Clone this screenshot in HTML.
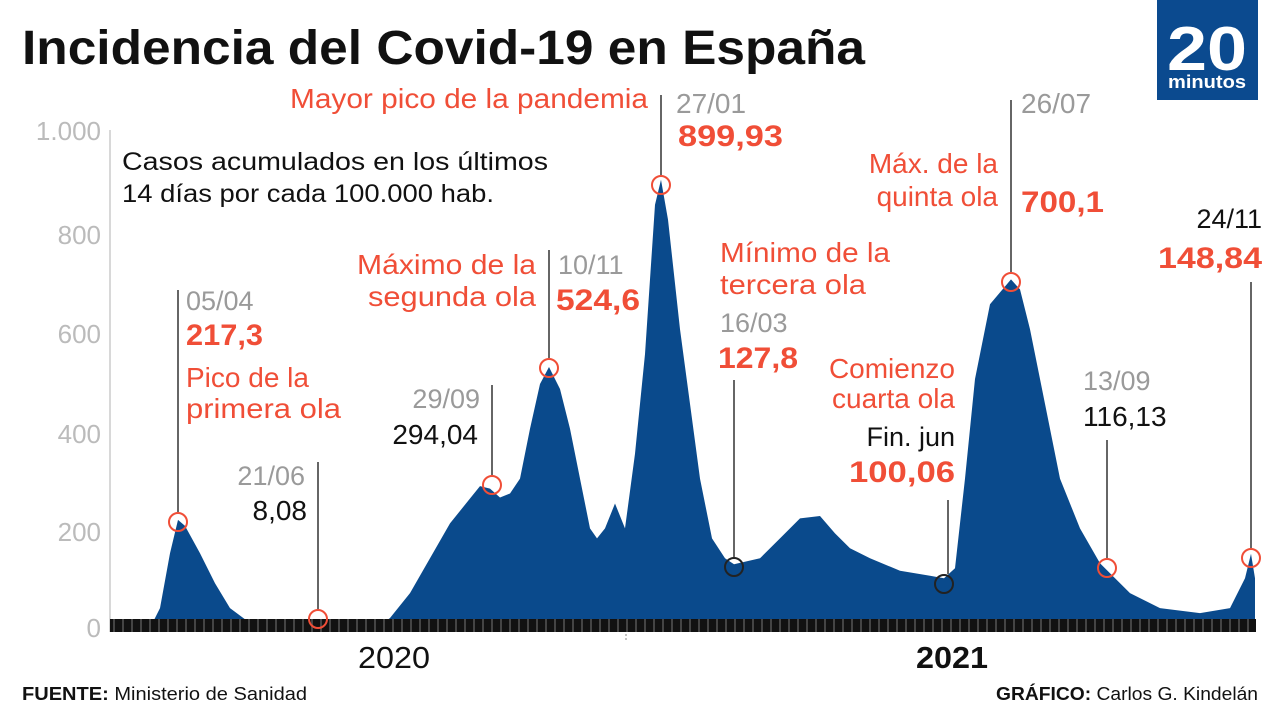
<!DOCTYPE html>
<html><head><meta charset="utf-8"><style>
html,body{margin:0;padding:0;background:#fff;width:1280px;height:720px;overflow:hidden}
svg{display:block}
text{font-family:"Liberation Sans",sans-serif}
.g{fill:#9a9a9a}.r{fill:#f04e37}.k{fill:#111}
</style></head><body>
<svg width="1280" height="720" viewBox="0 0 1280 720">
<defs>
<pattern id="st" width="9" height="14" patternUnits="userSpaceOnUse"><rect width="9" height="14" fill="#111"/><rect x="5" width="2" height="14" fill="#444"/></pattern>
</defs>
<text x="22" y="64" font-size="48" font-weight="bold" textLength="843" lengthAdjust="spacingAndGlyphs" class="k">Incidencia del Covid-19 en España</text>
<rect x="1157" y="0" width="101" height="100" fill="#0b4a8f"/>
<text x="1207" y="70" font-size="62" font-weight="bold" fill="#fff" text-anchor="middle" textLength="80" lengthAdjust="spacingAndGlyphs">20</text>
<text x="1207" y="88" font-size="18" font-weight="bold" fill="#fff" text-anchor="middle" textLength="78" lengthAdjust="spacingAndGlyphs">minutos</text>
<g font-size="26" fill="#bbb" text-anchor="end">
<text x="101" y="140">1.000</text><text x="101" y="244">800</text><text x="101" y="343">600</text><text x="101" y="443">400</text><text x="101" y="541">200</text><text x="101" y="637">0</text>
</g>
<line x1="110" y1="130" x2="110" y2="632" stroke="#ccc" stroke-width="1.5"/>
<path id="area" fill="#0a4a8c" d=""/>
<rect x="110" y="619" width="1146" height="13" fill="url(#st)"/>
<line x1="626" y1="634" x2="626" y2="642" stroke="#888" stroke-dasharray="2,2"/>
<g stroke="#333" stroke-width="1.5">
<line x1="178" y1="290" x2="178" y2="512"/><line x1="318" y1="462" x2="318" y2="610"/>
<line x1="492" y1="385" x2="492" y2="475"/><line x1="549" y1="250" x2="549" y2="358"/>
<line x1="661" y1="95" x2="661" y2="175"/><line x1="734" y1="380" x2="734" y2="557"/>
<line x1="948" y1="500" x2="948" y2="574"/><line x1="1011" y1="100" x2="1011" y2="272"/>
<line x1="1107" y1="440" x2="1107" y2="558"/><line x1="1251" y1="282" x2="1251" y2="548"/>
</g>
<g fill="none" stroke-width="2">
<circle cx="178" cy="522" r="9" stroke="#f04e37"/><circle cx="318" cy="619" r="9" stroke="#f04e37"/>
<circle cx="492" cy="485" r="9" stroke="#f04e37"/><circle cx="549" cy="368" r="9" stroke="#f04e37"/>
<circle cx="661" cy="185" r="9" stroke="#f04e37"/><circle cx="734" cy="567" r="9" stroke="#222"/>
<circle cx="944" cy="584" r="9" stroke="#222"/><circle cx="1011" cy="282" r="9" stroke="#f04e37"/>
<circle cx="1107" cy="568" r="9" stroke="#f04e37"/><circle cx="1251" cy="558" r="9" stroke="#f04e37"/>
</g>
<g font-size="25">
<text x="122" y="170" class="k" textLength="426" lengthAdjust="spacingAndGlyphs">Casos acumulados en los últimos</text>
<text x="122" y="202" class="k" textLength="372" lengthAdjust="spacingAndGlyphs">14 días por cada 100.000 hab.</text>
<text x="290" y="108" class="r" font-size="28" textLength="358" lengthAdjust="spacingAndGlyphs">Mayor pico de la pandemia</text>
<text x="676" y="113" class="g" font-size="28">27/01</text>
<text x="678" y="146" class="r" font-size="30" font-weight="bold" textLength="105" lengthAdjust="spacingAndGlyphs">899,93</text>
<text x="186" y="310" class="g" font-size="27">05/04</text>
<text x="186" y="345" class="r" font-size="30" font-weight="bold" textLength="77" lengthAdjust="spacingAndGlyphs">217,3</text>
<text x="186" y="387" class="r" font-size="28">Pico de la</text>
<text x="186" y="418" class="r" font-size="28" textLength="155" lengthAdjust="spacingAndGlyphs">primera ola</text>
<text x="305" y="485" class="g" font-size="27" text-anchor="end">21/06</text>
<text x="307" y="520" class="k" font-size="28" text-anchor="end">8,08</text>
<text x="480" y="408" class="g" font-size="27" text-anchor="end">29/09</text>
<text x="478" y="444" class="k" font-size="28" text-anchor="end">294,04</text>
<text x="536" y="274" class="r" font-size="28" text-anchor="end" textLength="179" lengthAdjust="spacingAndGlyphs">Máximo de la</text>
<text x="536" y="306" class="r" font-size="28" text-anchor="end" textLength="168" lengthAdjust="spacingAndGlyphs">segunda ola</text>
<text x="558" y="274" class="g" font-size="27">10/11</text>
<text x="556" y="310" class="r" font-size="30" font-weight="bold" textLength="84" lengthAdjust="spacingAndGlyphs">524,6</text>
<text x="720" y="262" class="r" font-size="28" textLength="170" lengthAdjust="spacingAndGlyphs">Mínimo de la</text>
<text x="720" y="294" class="r" font-size="28" textLength="146" lengthAdjust="spacingAndGlyphs">tercera ola</text>
<text x="720" y="332" class="g" font-size="27">16/03</text>
<text x="718" y="368" class="r" font-size="30" font-weight="bold" textLength="80" lengthAdjust="spacingAndGlyphs">127,8</text>
<text x="955" y="378" class="r" font-size="28" text-anchor="end">Comienzo</text>
<text x="955" y="408" class="r" font-size="28" text-anchor="end">cuarta ola</text>
<text x="955" y="446" class="k" font-size="27" text-anchor="end">Fin. jun</text>
<text x="955" y="482" class="r" font-size="30" font-weight="bold" text-anchor="end" textLength="106" lengthAdjust="spacingAndGlyphs">100,06</text>
<text x="998" y="173" class="r" font-size="28" text-anchor="end">Máx. de la</text>
<text x="998" y="206" class="r" font-size="28" text-anchor="end">quinta ola</text>
<text x="1021" y="113" class="g" font-size="28">26/07</text>
<text x="1021" y="212" class="r" font-size="30" font-weight="bold" textLength="83" lengthAdjust="spacingAndGlyphs">700,1</text>
<text x="1083" y="390" class="g" font-size="27">13/09</text>
<text x="1083" y="426" class="k" font-size="28">116,13</text>
<text x="1262" y="228" class="k" font-size="27" text-anchor="end">24/11</text>
<text x="1262" y="268" class="r" font-size="30" font-weight="bold" text-anchor="end" textLength="104" lengthAdjust="spacingAndGlyphs">148,84</text>
</g>
<text x="358" y="668" font-size="31" class="k" textLength="72" lengthAdjust="spacingAndGlyphs">2020</text>
<text x="916" y="668" font-size="31" font-weight="bold" class="k" textLength="72" lengthAdjust="spacingAndGlyphs">2021</text>
<text x="22" y="700" font-size="18" class="k" textLength="285" lengthAdjust="spacingAndGlyphs"><tspan font-weight="bold">FUENTE:</tspan> Ministerio de Sanidad</text>
<text x="1258" y="700" font-size="18" class="k" text-anchor="end" textLength="262" lengthAdjust="spacingAndGlyphs"><tspan font-weight="bold">GRÁFICO:</tspan> Carlos G. Kindelán</text>
</svg>
<script>
var p=[[110,0],[150,0],[160,40],[170,150],[178,217],[185,205],[200,150],[215,90],[230,40],[250,10],[280,5],[318,5],[380,5],[390,20],[410,70],[430,140],[450,210],[470,260],[480,285],[490,280],[500,262],[510,270],[520,300],[530,400],[540,490],[549,524],[560,480],[570,400],[580,300],[590,200],[597,180],[605,200],[615,250],[625,200],[635,350],[645,550],[655,850],[661,900],[668,820],[680,600],[690,450],[700,300],[712,180],[725,140],[734,128],[760,140],[780,180],[800,220],[820,225],[835,190],[850,160],[870,140],[900,115],[930,105],[944,100],[955,120],[965,300],[975,500],[990,650],[1011,700],[1020,680],[1030,600],[1045,450],[1060,300],[1080,200],[1100,130],[1107,116],[1130,70],[1160,40],[1200,30],[1230,40],[1245,100],[1251,149],[1255,100],[1255,0]];
var d="M"+p.map(function(q){return q[0]+","+(628-q[1]*0.498).toFixed(1)}).join(" L")+" Z";
document.getElementById("area").setAttribute("d",d);
</script>
</body></html>
